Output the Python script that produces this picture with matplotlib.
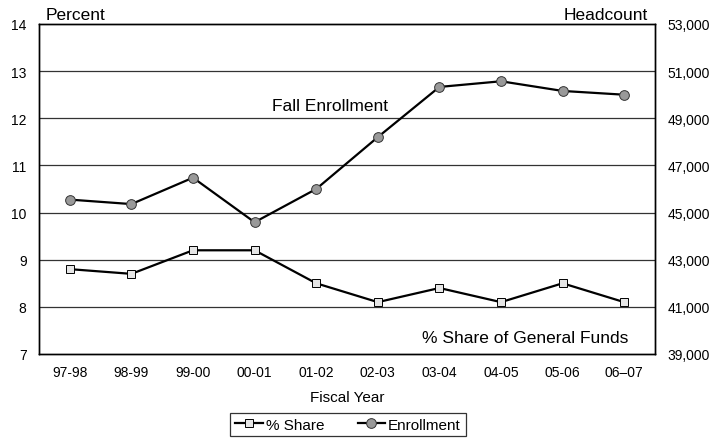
import matplotlib.pyplot as plt
from matplotlib.ticker import FuncFormatter

plt.rcParams['font.family'] = ['Liberation Sans', 'DejaVu Sans']

years = ['97-98', '98-99', '99-00', '00-01', '01-02', '02-03', '03-04', '04-05', '05-06', '06\u201307']
share = [8.8, 8.7, 9.2, 9.2, 8.5, 8.1, 8.4, 8.1, 8.5, 8.1]
enrollment = [45550, 45360, 46480, 44590, 46000, 48200, 50330, 50570, 50160, 50000]

fig = plt.figure(figsize=(7.15, 4.39), dpi=100)
ax = fig.add_axes([39 / 715, 1 - 355 / 439, (655 - 39) / 715, (355 - 25) / 439])
ax2 = ax.twinx()

x = list(range(len(years)))

ax.set_ylim(7, 14)
ax.set_xlim(-0.5, len(years) - 0.5)
ax.set_yticks(range(7, 15))
for v in range(8, 14):
    ax.axhline(v, color='#333333', lw=0.9, zorder=0)

l1, = ax.plot(x, share, color='black', lw=1.6, marker='s', markersize=5.5,
              markerfacecolor='#e6e6e6', markeredgecolor='black', markeredgewidth=0.7,
              zorder=3)

ax2.set_ylim(39000, 53000)
ax2.set_yticks(range(39000, 53001, 2000))
ax2.yaxis.set_major_formatter(FuncFormatter(lambda v, p: f'{int(v):,}'))
l2, = ax2.plot(x, enrollment, color='black', lw=1.6, marker='o', markersize=7,
               markerfacecolor='#999999', markeredgecolor='#333333', markeredgewidth=0.7,
               zorder=3)

ax.set_xticks(x)
ax.set_xticklabels(years)
for a in (ax, ax2):
    a.tick_params(length=0, labelsize=10)
    for s in a.spines.values():
        s.set_linewidth(1.0)
ax.tick_params(axis='x', pad=8)
ax.tick_params(axis='y', pad=9)
ax2.tick_params(axis='y', pad=9)

ax.set_xlabel('Fiscal Year', fontsize=11, labelpad=8)

fig.text(46 / 715, 1 - 15 / 439, 'Percent', fontsize=12.5, ha='left', va='center')
fig.text(648 / 715, 1 - 15 / 439, 'Headcount', fontsize=12.5, ha='right', va='center')
ax.text(3.28, 12.27, 'Fall Enrollment', fontsize=12.5, ha='left', va='center')
ax.text(9.06, 7.36, '% Share of General Funds', fontsize=12.5, ha='right', va='center')

leg = fig.legend([l1, l2], ['% Share', 'Enrollment'], loc='upper center',
                 bbox_to_anchor=(348 / 715, 1 - 414 / 439), ncol=2, fontsize=11,
                 frameon=True, fancybox=False, edgecolor='black', handlelength=1.8,
                 handletextpad=0.2, columnspacing=2.2, borderpad=0.3,
                 borderaxespad=0)
leg.get_frame().set_linewidth(0.9)

fig.savefig('out.png', dpi=100)
